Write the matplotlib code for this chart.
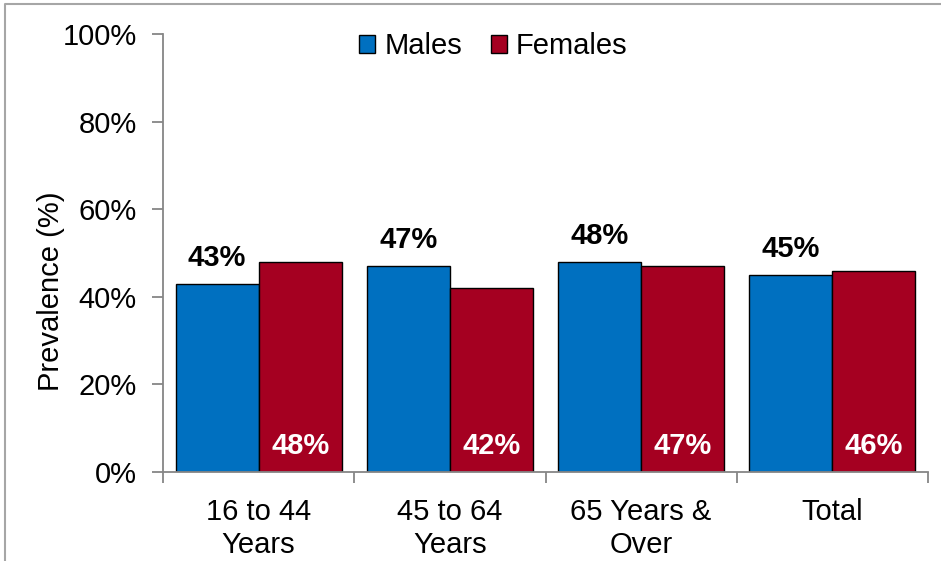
import matplotlib
matplotlib.use("Agg")
import matplotlib.pyplot as plt
from matplotlib.lines import Line2D
import numpy as np

categories = ["16 to 44\nYears", "45 to 64\nYears", "65 Years &\nOver", "Total"]
males = [43, 47, 48, 45]
females = [48, 42, 47, 46]
series_names = ["Males", "Females"]
yticks = [0, 20, 40, 60, 80, 100]

BLUE = "#0070C0"
RED = "#A50021"
GREY = "#868686"
FS = 21

plt.rcParams["font.family"] = ["Liberation Sans", "DejaVu Sans"]

W, H = 941, 561
fig = plt.figure(figsize=(W / 100, H / 100), dpi=100)
ax = fig.add_axes([163 / W, 1 - 472 / H, (928 - 163) / W, (472 - 34) / H])

x = np.arange(len(categories))
bw = 0.434
ax.bar(x - bw / 2, males, bw, color=BLUE, edgecolor="black", linewidth=1.0,
       label=series_names[0], zorder=2)
ax.bar(x + bw / 2, females, bw, color=RED, edgecolor="black", linewidth=1.0,
       label=series_names[1], zorder=2)

for xi, v in zip(x, males):
    ax.annotate(f"{v}%", (xi - bw / 2, v), xytext=(0, 13), textcoords="offset points",
                ha="center", va="baseline", fontsize=FS, fontweight="bold", color="black")
for xi, v in zip(x, females):
    ax.annotate(f"{v}%", (xi + bw / 2, 0), xytext=(0, 13), textcoords="offset points",
                ha="center", va="baseline", fontsize=FS, fontweight="bold", color="white",
                zorder=3)

ax.set_xlim(-0.5, len(categories) - 0.5)
ax.set_ylim(0, 100)
ax.set_yticks(yticks)
ax.set_yticklabels([f"{t}%" for t in yticks])
ax.set_xticks(x)
ax.set_xticklabels(categories)
ax.set_xticks(np.arange(-0.5, len(categories)), minor=True)
ax.tick_params(axis="x", which="major", length=0, pad=19, labelsize=FS)
ax.tick_params(axis="x", which="minor", length=8, width=1.3, color=GREY, direction="out")
ax.tick_params(axis="y", length=8, width=1.3, color=GREY, direction="out", pad=11, labelsize=FS)

for s in ["top", "right"]:
    ax.spines[s].set_visible(False)
for s in ["left", "bottom"]:
    ax.spines[s].set_color(GREY)
    ax.spines[s].set_linewidth(1.3)

# y-axis title
fig.text(51 / W, 1 - 291 / H, "Prevalence (%)", rotation=90, ha="center", va="center",
         fontsize=FS)

ax.legend(loc="center", bbox_to_anchor=(0.432, 0.972), ncol=2, frameon=False,
          prop={"size": FS},
          handlelength=0.55, handleheight=0.55, handletextpad=0.3, columnspacing=1.0,
          borderaxespad=0)

# outer frame (top and left edges)
fig.add_artist(Line2D([5 / W, 5 / W, 1.0], [0.0, 1 - 4 / H, 1 - 4 / H],
                      transform=fig.transFigure, color="#A6A6A6", linewidth=1.5))

fig.savefig("out.png", dpi=100)
